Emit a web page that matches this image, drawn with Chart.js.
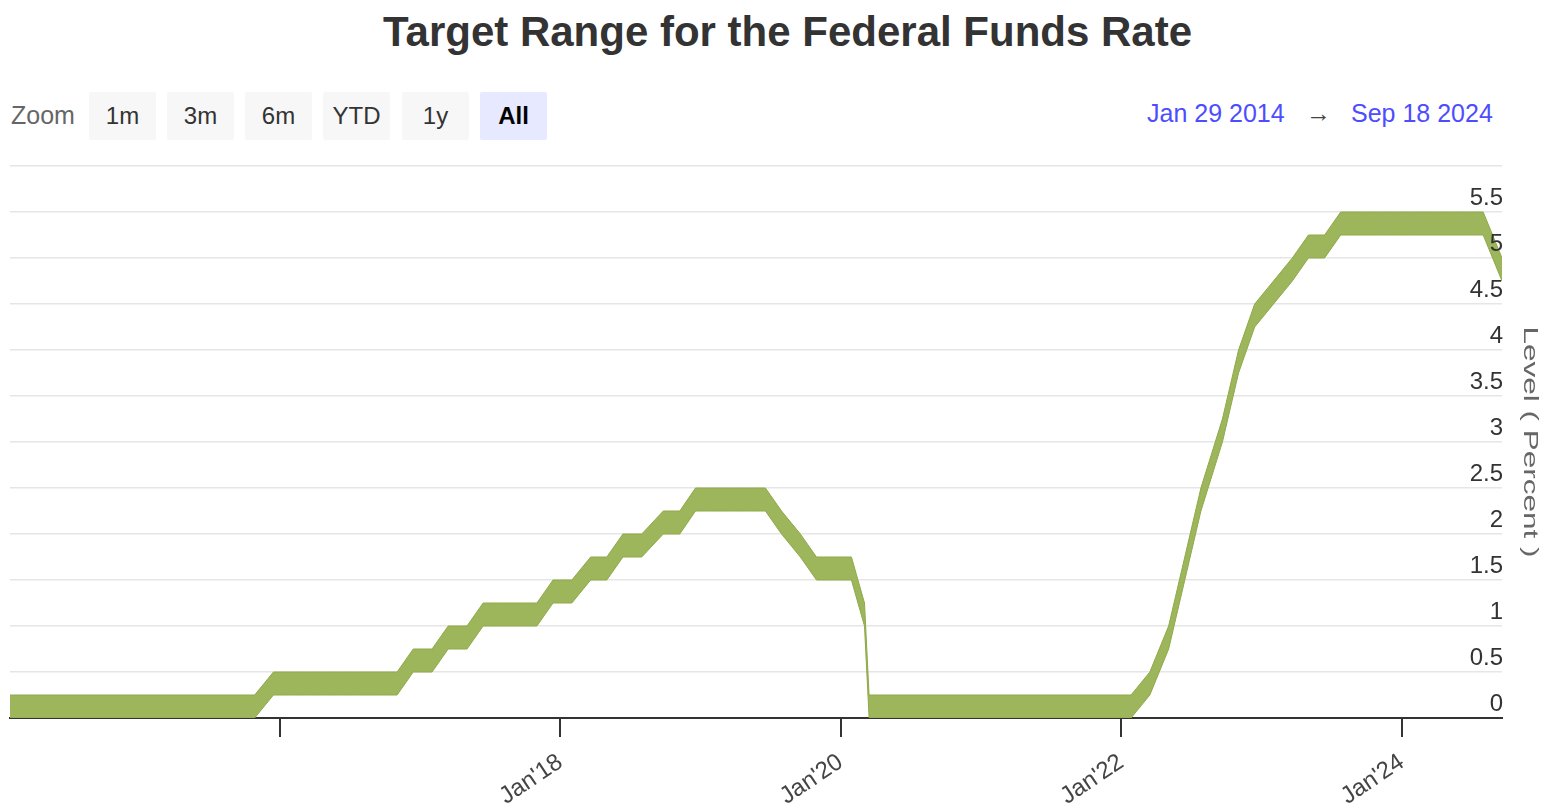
<!DOCTYPE html>
<html>
<head>
<meta charset="utf-8">
<title>Target Range for the Federal Funds Rate</title>
<script src="https://cdn.jsdelivr.net/npm/chart.js@4.4.0/dist/chart.umd.min.js"></script>
<style>
  body { margin: 0; background: #fff; font-family: "Liberation Sans", Arial, sans-serif; }
  #page { position: relative; width: 1551px; height: 808px; overflow: hidden; }
  #title { position: absolute; left: 383px; top: 8px; font-size: 42px; font-weight: bold; color: #333; white-space: nowrap; }
  #zoomLabel { position: absolute; left: 11px; top: 101px; font-size: 25px; color: #666; }
  .btn { position: absolute; top: 92px; width: 67px; height: 48px; line-height: 48px; background: #f7f7f7;
         text-align: center; font-size: 24px; color: #333; border-radius: 2px; }
  .btn.active { background: #e6e9ff; color: #000; font-weight: bold; }
  #range { position: absolute; top: 99px; font-size: 25px; white-space: nowrap; }
  .date { color: #4d4dff; position: absolute; }
  .arrow { color: #444; position: absolute; }
  #chartBox { position: absolute; left: 0; top: 150px; width: 1551px; height: 658px; }
</style>
</head>
<body>
<div id="page">
  <div id="title">Target Range for the Federal Funds Rate</div>
  <div id="zoomLabel">Zoom</div>
  <div class="btn" style="left:89px">1m</div>
  <div class="btn" style="left:167px">3m</div>
  <div class="btn" style="left:245px">6m</div>
  <div class="btn" style="left:323px">YTD</div>
  <div class="btn" style="left:402px">1y</div>
  <div class="btn active" style="left:480px">All</div>
  <div id="range">
    <span class="date" style="left:1147px">Jan 29 2014</span>
    <span class="arrow" style="left:1306px">&rarr;</span>
    <span class="date" style="left:1351px">Sep 18 2024</span>
  </div>
  <div id="chartBox"><canvas id="rateChart"></canvas></div>
</div>
<script>
// FOMC meeting dates and the target range (percent) after each one
const meetingDates = [
  '2014-01-29','2014-03-19','2014-04-30','2014-06-18','2014-07-30','2014-09-17','2014-10-29','2014-12-17',
  '2015-01-28','2015-03-18','2015-04-29','2015-06-17','2015-07-29','2015-09-17','2015-10-28','2015-12-16',
  '2016-01-27','2016-03-16','2016-04-27','2016-06-15','2016-07-27','2016-09-21','2016-11-02','2016-12-14',
  '2017-02-01','2017-03-15','2017-05-03','2017-06-14','2017-07-26','2017-09-20','2017-11-01','2017-12-13',
  '2018-01-31','2018-03-21','2018-05-02','2018-06-13','2018-08-01','2018-09-26','2018-11-08','2018-12-19',
  '2019-01-30','2019-03-20','2019-05-01','2019-06-19','2019-07-31','2019-09-18','2019-10-30','2019-12-11',
  '2020-01-29','2020-03-03','2020-03-15','2020-04-29','2020-06-10','2020-07-29','2020-09-16','2020-11-05','2020-12-16',
  '2021-01-27','2021-03-17','2021-04-28','2021-06-16','2021-07-28','2021-09-22','2021-11-03','2021-12-15',
  '2022-01-26','2022-03-16','2022-05-04','2022-06-15','2022-07-27','2022-09-21','2022-11-02','2022-12-14',
  '2023-02-01','2023-03-22','2023-05-03','2023-06-14','2023-07-26','2023-09-20','2023-11-01','2023-12-13',
  '2024-01-31','2024-03-20','2024-05-01','2024-06-12','2024-07-31','2024-09-18'
];
const lowerBound = [
  0, 0, 0, 0, 0, 0, 0, 0,
  0, 0, 0, 0, 0, 0, 0, 0.25,
  0.25, 0.25, 0.25, 0.25, 0.25, 0.25, 0.25, 0.5,
  0.5, 0.75, 0.75, 1, 1, 1, 1, 1.25,
  1.25, 1.5, 1.5, 1.75, 1.75, 2, 2, 2.25,
  2.25, 2.25, 2.25, 2.25, 2, 1.75, 1.5, 1.5,
  1.5, 1, 0, 0, 0, 0, 0, 0, 0,
  0, 0, 0, 0, 0, 0, 0, 0,
  0, 0.25, 0.75, 1.5, 2.25, 3, 3.75, 4.25,
  4.5, 4.75, 5, 5, 5.25, 5.25, 5.25, 5.25,
  5.25, 5.25, 5.25, 5.25, 5.25, 4.75
];
const upperBound = [
  0.25, 0.25, 0.25, 0.25, 0.25, 0.25, 0.25, 0.25,
  0.25, 0.25, 0.25, 0.25, 0.25, 0.25, 0.25, 0.5,
  0.5, 0.5, 0.5, 0.5, 0.5, 0.5, 0.5, 0.75,
  0.75, 1, 1, 1.25, 1.25, 1.25, 1.25, 1.5,
  1.5, 1.75, 1.75, 2, 2, 2.25, 2.25, 2.5,
  2.5, 2.5, 2.5, 2.5, 2.25, 2, 1.75, 1.75,
  1.75, 1.25, 0.25, 0.25, 0.25, 0.25, 0.25, 0.25, 0.25,
  0.25, 0.25, 0.25, 0.25, 0.25, 0.25, 0.25, 0.25,
  0.25, 0.5, 1, 1.75, 2.5, 3.25, 4, 4.5,
  4.75, 5, 5.25, 5.25, 5.5, 5.5, 5.5, 5.5,
  5.5, 5.5, 5.5, 5.5, 5.5, 5
];
const tickYears = [2016, 2018, 2020, 2022, 2024];
const tickLabels = ['', "Jan'18", "Jan'20", "Jan'22", "Jan'24"];
const yTitle = 'Level ( Percent )';

const toTime = d => new Date(d + 'T00:00:00Z').getTime();
const xs = meetingDates.map(toTime);
const bandColor = '#9db55b';
const edgeColor = '#8eaa4a';

// y axis title, drawn stretched along its length like the original
const axisTitle = {
  id: 'axisTitle',
  afterDraw(chart) {
    const { ctx, chartArea } = chart;
    ctx.save();
    ctx.translate(chart.width - 21, (chartArea.top + chartArea.bottom) / 2);
    ctx.rotate(Math.PI / 2);
    ctx.scale(1.5, 1);
    ctx.font = '21px "Liberation Sans", Arial, sans-serif';
    ctx.fillStyle = '#666';
    ctx.textAlign = 'center';
    ctx.textBaseline = 'middle';
    ctx.fillText(yTitle, 0, 0);
    ctx.restore();
  }
};

const ctx = document.getElementById('rateChart').getContext('2d');
new Chart(ctx, {
  type: 'line',
  data: {
    datasets: [{
      label: 'Lower',
      data: xs.map((x, i) => ({ x: x, y: lowerBound[i] })),
      borderColor: edgeColor,
      borderWidth: 1,
      pointRadius: 0,
      fill: false
    }, {
      label: 'Upper',
      data: xs.map((x, i) => ({ x: x, y: upperBound[i] })),
      borderColor: edgeColor,
      borderWidth: 1,
      backgroundColor: bandColor,
      pointRadius: 0,
      fill: '-1'
    }]
  },
  options: {
    responsive: true,
    maintainAspectRatio: false,
    animation: false,
    layout: { padding: { top: 16, left: 10, right: 0, bottom: 0 } },
    scales: {
      x: {
        type: 'linear',
        min: xs[0],
        max: xs[xs.length - 1],
        afterBuildTicks: scale => {
          scale.ticks = tickYears.map(y => ({ value: Date.UTC(y, 0, 1) }));
        },
        afterFit: scale => { scale.height = 90; },
        grid: { drawOnChartArea: false, color: '#333', lineWidth: 2, tickLength: 19 },
        border: { color: '#333', width: 2 },
        ticks: {
          minRotation: 34,
          maxRotation: 34,
          padding: 11,
          color: '#444',
          font: { family: '"Liberation Sans", Arial, sans-serif', size: 24 },
          callback: value => {
            const i = tickYears.indexOf(new Date(value).getUTCFullYear());
            return i >= 0 ? tickLabels[i] : '';
          }
        }
      },
      y: {
        position: 'right',
        min: 0,
        max: 6,
        afterFit: scale => { scale.width = 49; },
        grid: { color: '#e6e6e6', lineWidth: 1.5, drawTicks: false },
        border: { display: false },
        ticks: {
          z: 1,
          stepSize: 0.5,
          mirror: true,
          padding: 1,
          labelOffset: -14,
          color: '#333',
          font: { family: '"Liberation Sans", Arial, sans-serif', size: 24 },
          callback: value => value === 6 ? '' : value
        }
      }
    },
    plugins: {
      legend: { display: false },
      tooltip: { enabled: false }
    }
  },
  plugins: [axisTitle]
});
</script>
</body>
</html>
